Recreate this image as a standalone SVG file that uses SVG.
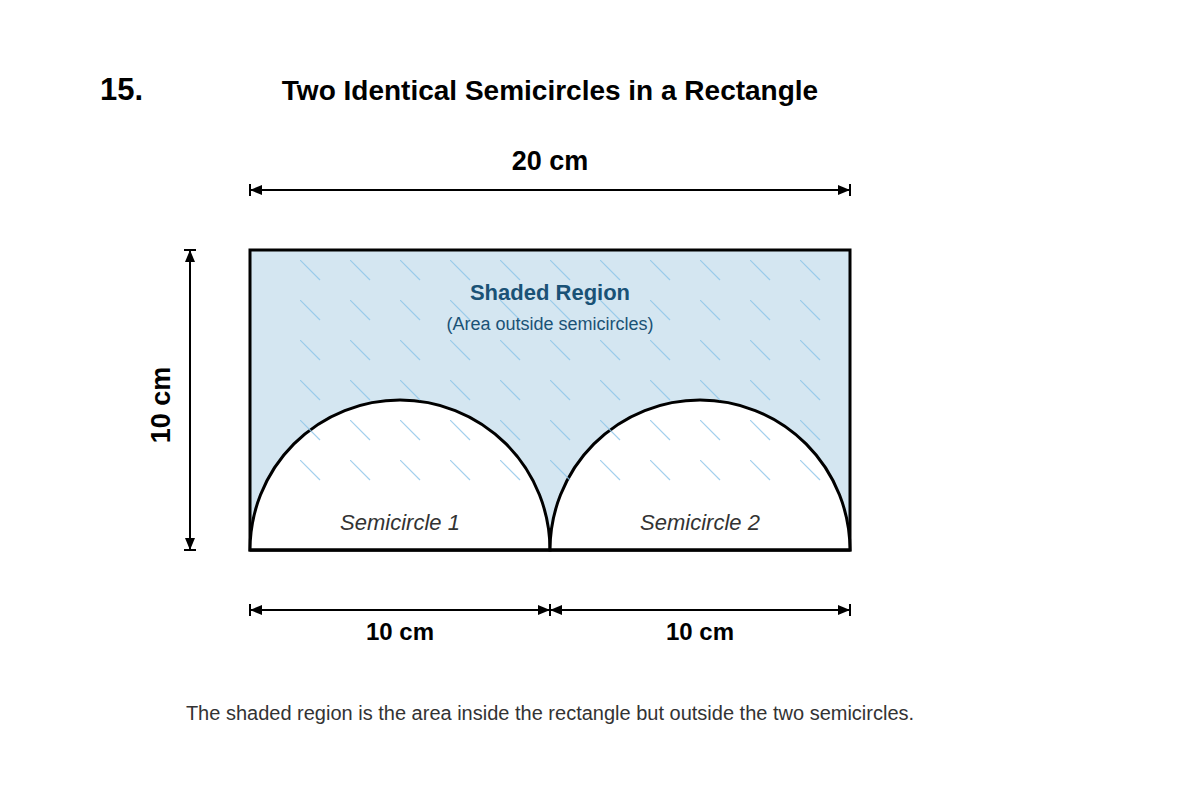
<svg xmlns="http://www.w3.org/2000/svg" width="1200" height="800" viewBox="0 0 1200 800">
<style>
text{font-family:"Liberation Sans",Arial,sans-serif}
.dim{stroke:#000;stroke-width:2;fill:none}
.dl{font-weight:bold;font-size:24px;text-anchor:middle;fill:#000}
.sc{font-style:italic;font-size:22px;text-anchor:middle;fill:#333}
</style>
<defs>
<marker id="ah" viewBox="0 0 12 12" refX="12" refY="6" markerWidth="12" markerHeight="12" markerUnits="userSpaceOnUse" orient="auto-start-reverse">
<path d="M0,1 L12,6 L0,11 Z" fill="#000"/>
</marker>
<pattern id="hatch" patternUnits="userSpaceOnUse" x="300" y="260" width="50" height="40">
<line x1="0" y1="0" x2="20" y2="20" stroke="#8cc4e8" stroke-width="1.2"/>
</pattern>
</defs>
<rect width="1200" height="800" fill="#fff"/>
<text x="100" y="100" font-size="31" font-weight="bold">15.</text>
<text x="550" y="100" font-size="28" font-weight="bold" text-anchor="middle">Two Identical Semicircles in a Rectangle</text>
<g id="rectangle">
<rect x="250" y="250" width="600" height="300" fill="#d4e6f1" stroke="#000" stroke-width="3"/>
</g>
<g id="semicircle1">
<path d="M250,550 A150,150 0 0 1 550,550 Z" fill="#fff" stroke="#000" stroke-width="3"/>
</g>
<g id="semicircle2">
<path d="M550,550 A150,150 0 0 1 850,550 Z" fill="#fff" stroke="#000" stroke-width="3"/>
</g>
<rect x="300" y="260" width="530" height="240" fill="url(#hatch)" opacity="0.8"/>
<line x1="250" y1="550" x2="850" y2="550" stroke="#000" stroke-width="3"/>
<text x="550" y="300" font-size="22" font-weight="bold" text-anchor="middle" fill="#1a5276">Shaded Region</text>
<text x="550" y="330" font-size="18" text-anchor="middle" fill="#1a5276">(Area outside semicircles)</text>
<text x="400" y="530" class="sc">Semicircle 1</text>
<text x="700" y="530" class="sc">Semicircle 2</text>
<g id="connectors">
<line class="dim" x1="250" y1="190" x2="850" y2="190" marker-start="url(#ah)" marker-end="url(#ah)"/>
<line class="dim" x1="250" y1="184" x2="250" y2="196"/>
<line class="dim" x1="850" y1="184" x2="850" y2="196"/>
<line class="dim" x1="190" y1="250" x2="190" y2="550" marker-start="url(#ah)" marker-end="url(#ah)"/>
<line class="dim" x1="184" y1="250" x2="196" y2="250"/>
<line class="dim" x1="184" y1="550" x2="196" y2="550"/>
<line class="dim" x1="250" y1="610" x2="550" y2="610" marker-start="url(#ah)" marker-end="url(#ah)"/>
<line class="dim" x1="550" y1="610" x2="850" y2="610" marker-start="url(#ah)" marker-end="url(#ah)"/>
<line class="dim" x1="250" y1="604" x2="250" y2="616"/>
<line class="dim" x1="550" y1="604" x2="550" y2="616"/>
<line class="dim" x1="850" y1="604" x2="850" y2="616"/>
</g>
<text x="550" y="170" class="dl" style="font-size:27px">20 cm</text>
<text x="0" y="0" class="dl" style="font-size:27px" transform="translate(170,405) rotate(-90)">10 cm</text>
<text x="400" y="640" class="dl">10 cm</text>
<text x="700" y="640" class="dl">10 cm</text>
<text x="550" y="720" font-size="20" text-anchor="middle" fill="#333">The shaded region is the area inside the rectangle but outside the two semicircles.</text>
</svg>
